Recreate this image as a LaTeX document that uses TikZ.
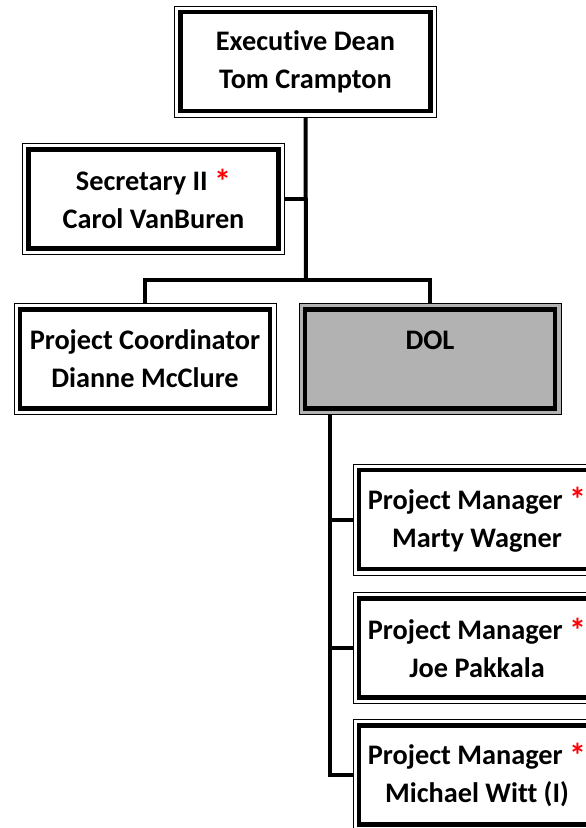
\documentclass[tikz,border=0pt]{standalone}
\usepackage{fontspec}
\setmainfont{Carlito}[Ligatures=CommonOff]
\usepackage{xcolor}
\definecolor{dolgray}{RGB}{178,178,178}
\newcommand{\redstar}{\textcolor{red}{\raisebox{-2.5pt}{\fontsize{34}{38}\selectfont*}}}

\begin{document}
\begin{tikzpicture}[x=1pt,y=-1pt,
    unit/.style={draw, line width=0.8pt, fill=white, minimum width=262pt,
      minimum height=111pt, inner sep=0pt, align=center,
      font=\fontsize{28.3}{38}\selectfont\bfseries},
    pm/.style={unit, minimum width=248pt},
    link/.style={line width=4pt}]
  \useasboundingbox (0,0) rectangle (586,828);
  \clip (0,0) rectangle (586,828);

  \node[unit] (dean) at (305.5,61.5) {Executive Dean\\Tom Crampton};
  \node[unit] (sec) at (153.5,199) {Secretary II \redstar\\Carol VanBuren};
  \node[unit] (coord) at (145,359) {Project Coordinator\\Dianne McClure};
  \node[unit, fill=dolgray] (dol) at (430,359) {DOL\\~};
  \node[pm] (pm1) at (477,519.5) {Project Manager \redstar\\Marty Wagner};
  \node[pm] (pm2) at (477,648) {Project Manager \redstar\\Joe Pakkala};
  \node[pm] (pm3) at (477,775) {Project Manager \redstar\\Michael Witt (I)};

  % thick inner frame
  \foreach \n in {dean,sec,coord,dol,pm1,pm2,pm3}
    \draw[line width=4.5pt] ([shift={(6.5,6.5)}]\n.north west)
      rectangle ([shift={(-6.5,-6.5)}]\n.south east);

  \coordinate (bus) at (306,280);
  \draw[link] (dean.south) -- (bus);
  \draw[link] (sec.east) -- (sec.east -| dean.south);
  \draw[link] (coord.north) |- (bus) -| (dol.north);

  \coordinate (dtop) at ([xshift=31pt]dol.south west);
  \draw[link] (dtop) |- (pm3.west);
  \foreach \p in {pm1,pm2}
    \draw[link] (dtop |- \p.west) -- (\p.west);
\end{tikzpicture}
\end{document}
